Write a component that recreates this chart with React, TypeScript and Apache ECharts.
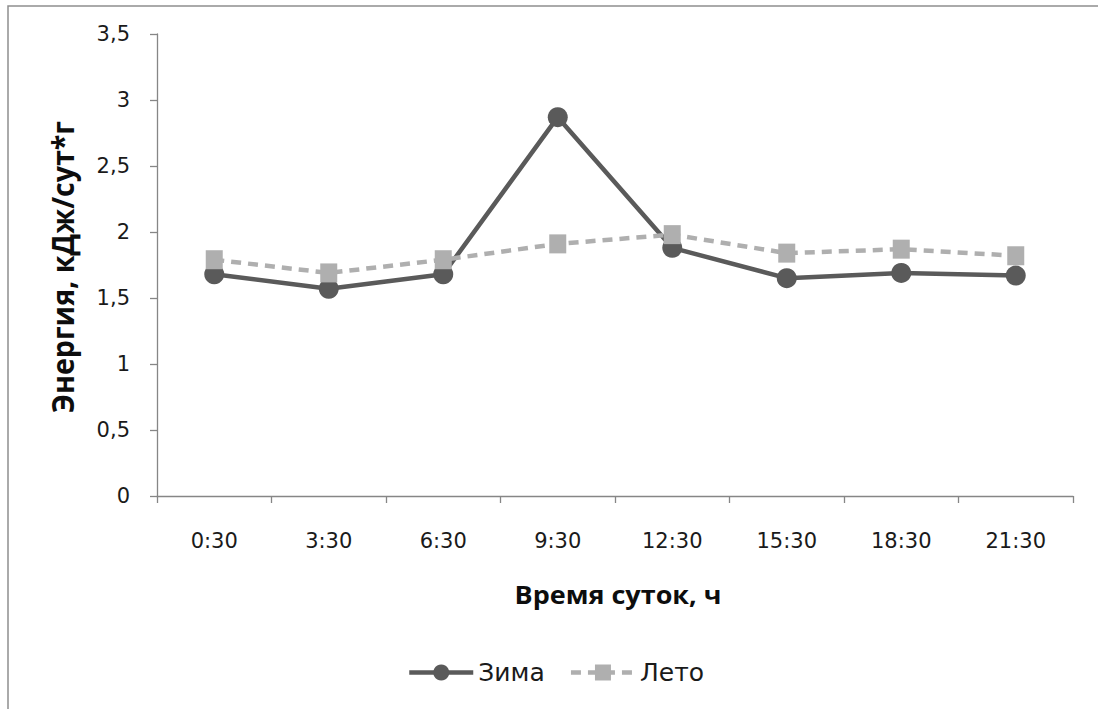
import React, { useEffect, useRef } from "react";
import * as echarts from "echarts";

const categories = ["0:30", "3:30", "6:30", "9:30", "12:30", "15:30", "18:30", "21:30"];
const winterValues = [1.68, 1.57, 1.68, 2.87, 1.88, 1.65, 1.69, 1.67];
const summerValues = [1.79, 1.69, 1.79, 1.91, 1.98, 1.84, 1.87, 1.82];
const seriesNames = ["Зима", "Лето"];
const yTitle = "Энергия, кДж/сут*г";
const xTitle = "Время суток, ч";

export default function App() {
  const ref = useRef<HTMLDivElement>(null);
  useEffect(() => {
    document.body.style.margin = "0";
    const chart = echarts.init(ref.current!, null, { renderer: "svg" });
    const labelFont = "DejaVu Sans";
    chart.setOption({
      animation: false,
      backgroundColor: "#ffffff",
      grid: { left: 157, right: 25, top: 34, bottom: 213, containLabel: false },
      legend: {
        left: 402,
        top: 655,
        itemWidth: 64,
        itemHeight: 20,
        itemGap: 24,
        lineStyle: { width: 4.5 },
        textStyle: { fontFamily: labelFont, fontSize: 25, color: "#1a1a1a", padding: [0, 0, 0, 0] },
        data: seriesNames,
      },
      xAxis: {
        type: "category",
        data: categories,
        boundaryGap: true,
        axisLine: { lineStyle: { color: "#868686", width: 1.3 } },
        axisTick: { show: true, length: 7, lineStyle: { color: "#868686", width: 1.3 } },
        axisLabel: { margin: 34, fontFamily: labelFont, fontSize: 21, color: "#1a1a1a" },
        splitLine: { show: false },
      },
      yAxis: {
        type: "value",
        min: 0,
        max: 3.5,
        interval: 0.5,
        axisLine: { show: true, lineStyle: { color: "#868686", width: 1.3 } },
        axisTick: { show: true, length: 7, lineStyle: { color: "#868686", width: 1.3 } },
        axisLabel: {
          margin: 27,
          fontFamily: labelFont,
          fontSize: 21,
          color: "#1a1a1a",
          formatter: (v: number) => String(v).replace(".", ","),
        },
        splitLine: { show: false },
      },
      graphic: [
        {
          type: "rect",
          shape: { x: 8, y: 6, width: 1300, height: 900 },
          style: { fill: "none", stroke: "#8e8e8e", lineWidth: 1.5 },
          silent: true,
        },
        {
          type: "text",
          x: 618,
          y: 594,
          scaleX: 1.08,
          style: {
            text: xTitle,
            fontFamily: "Open Sans",
            fontWeight: "bold",
            fontSize: 25,
            fill: "#0d0d0d",
            align: "center",
            verticalAlign: "middle",
          },
        },
        {
          type: "text",
          x: 62,
          y: 267,
          rotation: Math.PI / 2,
          scaleX: 1.1,
          scaleY: 1.2,
          style: {
            text: yTitle,
            fontFamily: "Open Sans",
            fontWeight: "bold",
            fontSize: 26,
            fill: "#0d0d0d",
            align: "center",
            verticalAlign: "middle",
          },
        },
      ],
      series: [
        {
          name: seriesNames[0],
          type: "line",
          data: winterValues,
          symbol: "circle",
          symbolSize: 20,
          itemStyle: { color: "#5a5a5a" },
          lineStyle: { color: "#5a5a5a", width: 4.5 },
        },
        {
          name: seriesNames[1],
          type: "line",
          data: summerValues,
          symbol: "rect",
          symbolSize: [17, 19],
          itemStyle: { color: "#afafaf" },
          lineStyle: { color: "#afafaf", width: 4.5, type: [10, 7] },
        },
      ],
    });
    return () => chart.dispose();
  }, []);
  return <div ref={ref} style={{ width: 1098, height: 709 }} />;
}
